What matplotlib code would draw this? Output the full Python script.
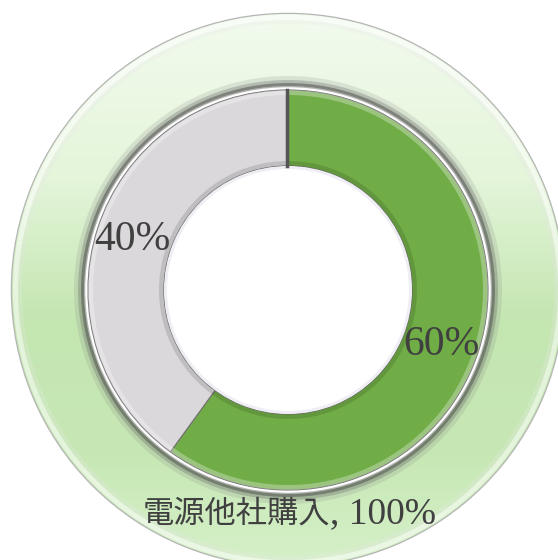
import numpy as np
import matplotlib
matplotlib.use("Agg")
import matplotlib.pyplot as plt
from matplotlib.patches import Wedge

# Data
outer_labels = ["電源他社購入"]
outer_values = [100]
inner_values = [60, 40]
inner_labels = ["60%", "40%"]
inner_colors = ["#70AD47", "#DAD8DA"]

W, H = 558, 560
fig = plt.figure(figsize=(W / 100, H / 100), dpi=100)
ax = fig.add_axes([0, 0, 1, 1])
cx, cy = 0, 0
ax.set_xlim(-288, 270)
ax.set_ylim(-270, 290)
ax.axis("off")

R_out, w_out = 276, 72
R_in, w_in = 200, 76

# Outer ring
ow, _ = ax.pie(outer_values, radius=R_out, startangle=90, counterclock=False,
               colors=["#D2EDC3"], frame=True,
               wedgeprops=dict(width=w_out, edgecolor="#B5B5B5", linewidth=1.8))
grad = np.linspace(0, 1, 256)[:, None]
cmap = matplotlib.colors.LinearSegmentedColormap.from_list(
    "g", [(0, "#F2FBEE"), (0.3, "#E4F5DA"), (0.55, "#C4E6B1"), (0.8, "#C7E8B5"), (1, "#D6F0C9")])
im = ax.imshow(grad, extent=(-R_out, R_out, -R_out, R_out), origin="upper",
               cmap=cmap, aspect="auto", zorder=1)
im.set_clip_path(ow[0])
# bevel shading on outer ring
for r, wd, c, a in [(R_out - w_out + 10, 10, "#808080", 0.18), (R_out - w_out + 6, 6, "#606060", 0.3),
                    (R_out - w_out + 3, 3, "#404040", 0.45),
                    (R_out - 1, 5, "#FFFFFF", 0.55), (R_out - 6, 4, "#E8E8E8", 0.25)]:
    ax.add_patch(Wedge((cx, cy), r, 0, 360, width=wd, facecolor=c, alpha=a,
                       edgecolor="none", zorder=2))

# Inner ring
iw, _ = ax.pie(inner_values, radius=R_in, startangle=90, counterclock=False,
               colors=inner_colors, frame=True,
               wedgeprops=dict(width=w_in, edgecolor="#707070", linewidth=0.8))
for w in iw:
    w.set_zorder(3)
for wdg in iw:
    t1, t2 = wdg.theta1, wdg.theta2
    for r, wd, c, a in [(R_in, 5, "#FFFFFF", 0.3), (R_in - w_in + 5, 5, "#000000", 0.12)]:
        ax.add_patch(Wedge((cx, cy), r, t1, t2, width=wd, facecolor=c, alpha=a,
                           edgecolor="none", zorder=4))
# hole rim
ax.add_patch(Wedge((cx, cy), R_in - w_in, 0, 360, width=3, facecolor="#EEEEF4",
                   edgecolor="none", zorder=4))
ax.plot([-1.5, -1.5], [R_in - w_in, R_in], color="#555555", lw=2.5, zorder=5)

ax.set_xlim(-288, 270)
ax.set_ylim(-270, 290)

fam = ["Liberation Serif", "Noto Sans CJK JP"]
ax.text(153, -55, inner_labels[0], fontsize=30, family=fam, color="#404040",
        ha="center", va="center", zorder=6)
ax.text(-156, 50, inner_labels[1], fontsize=30, family=fam, color="#404040",
        ha="center", va="center", zorder=6)
ax.text(42, -233, outer_labels[0], fontsize=22.5, family=["Noto Sans CJK JP"],
        color="#404040", ha="right", va="baseline", zorder=6)
ax.text(42, -233, f", {outer_values[0]}%", fontsize=27, family=fam,
        color="#404040", ha="left", va="baseline", zorder=6)

fig.savefig("out.png", dpi=100, facecolor="white")
